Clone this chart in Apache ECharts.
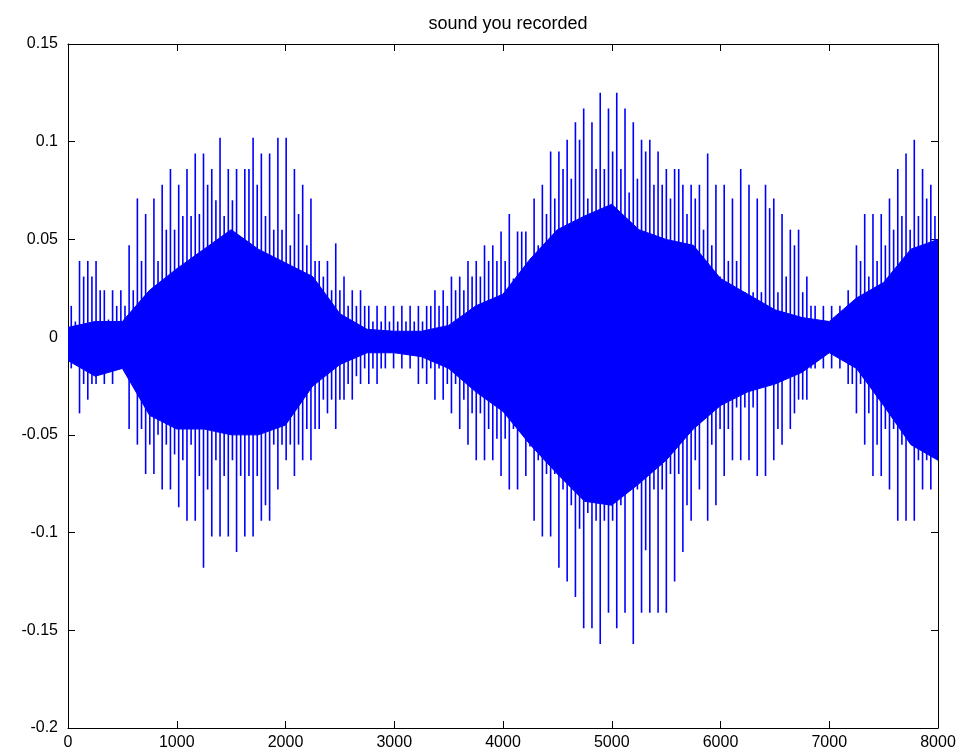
<!DOCTYPE html>
<html>
<head>
<meta charset="utf-8">
<script src="https://cdn.jsdelivr.net/npm/echarts@6/dist/echarts.min.js"></script>
<style>
html,body{margin:0;padding:0;background:#fff;}
#chart{width:966px;height:754px;}
</style>
</head>
<body>
<div id="chart"></div>
<script>
// ---- data ----
const chartTitle = 'sound you recorded';
const xTicks = [0, 1000, 2000, 3000, 4000, 5000, 6000, 7000, 8000];
const yTicks = [-0.2, -0.15, -0.1, -0.05, 0, 0.05, 0.1, 0.15];

// pitch periods: first period at sample 30, one period every 76 samples
const periodStart = 30;
const periodLength = 76;

// tallest positive spike of each pitch period
const peakHigh = [0.016, 0.039, 0.039, 0.039, 0.024, 0.024, 0.024, 0.047, 0.071, 0.063,
  0.071, 0.078, 0.086, 0.078, 0.086, 0.094, 0.094, 0.086, 0.102, 0.086,
  0.086, 0.086, 0.102, 0.094, 0.094, 0.102, 0.102, 0.086, 0.078, 0.071,
  0.039, 0.039, 0.048, 0.031, 0.024, 0.024, 0.016, 0.016, 0.016, 0.016,
  0.016, 0.016, 0.016, 0.016, 0.024, 0.024, 0.031, 0.031, 0.039, 0.039,
  0.047, 0.047, 0.054, 0.063, 0.054, 0.054, 0.071, 0.078, 0.095, 0.095,
  0.101, 0.110, 0.117, 0.110, 0.125, 0.117, 0.125, 0.117, 0.110, 0.101,
  0.101, 0.095, 0.086, 0.086, 0.078, 0.078, 0.078, 0.094, 0.078, 0.078,
  0.071, 0.086, 0.078, 0.071, 0.078, 0.071, 0.063, 0.055, 0.055, 0.031,
  0.016, 0.016, 0.016, 0.016, 0.024, 0.047, 0.063, 0.063, 0.063, 0.071,
  0.086, 0.094, 0.101, 0.086, 0.078];
// deepest negative spike of each pitch period
const peakLow = [-0.016, -0.039, -0.032, -0.024, -0.024, -0.024, -0.016, -0.047, -0.055, -0.070,
  -0.070, -0.078, -0.078, -0.087, -0.094, -0.094, -0.118, -0.102, -0.102, -0.102,
  -0.110, -0.102, -0.102, -0.094, -0.094, -0.078, -0.063, -0.071, -0.063, -0.063,
  -0.047, -0.039, -0.047, -0.032, -0.032, -0.024, -0.024, -0.024, -0.016, -0.016,
  -0.016, -0.016, -0.024, -0.024, -0.032, -0.032, -0.039, -0.047, -0.055, -0.063,
  -0.063, -0.063, -0.071, -0.078, -0.078, -0.071, -0.094, -0.102, -0.102, -0.118,
  -0.125, -0.133, -0.149, -0.149, -0.157, -0.141, -0.149, -0.141, -0.157, -0.141,
  -0.141, -0.141, -0.141, -0.125, -0.110, -0.094, -0.078, -0.094, -0.086, -0.071,
  -0.063, -0.063, -0.063, -0.071, -0.071, -0.063, -0.055, -0.047, -0.032, -0.032,
  -0.016, -0.016, -0.016, -0.016, -0.024, -0.039, -0.055, -0.071, -0.071, -0.078,
  -0.094, -0.094, -0.094, -0.078, -0.078];
// second (smaller) positive spike of each period
const secondHigh = [0.008, 0.031, 0.031, 0.024, 0.009, 0.016, 0.016, 0.024, 0.039, 0.024,
  0.039, 0.055, 0.055, 0.062, 0.062, 0.063, 0.078, 0.070, 0.062, 0.070,
  0.050, 0.086, 0.078, 0.062, 0.055, 0.055, 0.047, 0.063, 0.047, 0.039,
  0.031, 0.024, 0.024, 0.016, 0.016, 0.016, 0.008, 0.008, 0.008, 0.008,
  0.008, 0.008, 0.008, 0.016, 0.016, 0.016, 0.024, 0.024, 0.031, 0.031,
  0.039, 0.039, 0.039, 0.030, 0.054, 0.039, 0.047, 0.063, 0.071, 0.086,
  0.081, 0.101, 0.071, 0.086, 0.086, 0.095, 0.086, 0.074, 0.081, 0.095,
  0.078, 0.078, 0.071, 0.086, 0.063, 0.071, 0.055, 0.047, 0.031, 0.039,
  0.039, 0.023, 0.023, 0.023, 0.066, 0.023, 0.031, 0.047, 0.023, 0.016,
  0.008, 0.008, 0.008, 0.008, 0.008, 0.039, 0.031, 0.039, 0.047, 0.055,
  0.062, 0.055, 0.062, 0.071, 0.062];
// second (smaller) negative spike of each period
const secondLow = [-0.008, -0.024, -0.024, -0.016, -0.016, -0.008, -0.008, -0.024, -0.047, -0.055,
  -0.050, -0.055, -0.060, -0.063, -0.055, -0.071, -0.078, -0.063, -0.071, -0.063,
  -0.071, -0.071, -0.071, -0.086, -0.055, -0.055, -0.055, -0.055, -0.047, -0.047,
  -0.032, -0.032, -0.032, -0.024, -0.020, -0.016, -0.016, -0.016, -0.008, -0.008,
  -0.008, -0.008, -0.016, -0.016, -0.016, -0.024, -0.024, -0.032, -0.039, -0.039,
  -0.047, -0.052, -0.052, -0.047, -0.047, -0.056, -0.063, -0.070, -0.070, -0.078,
  -0.086, -0.098, -0.090, -0.094, -0.094, -0.094, -0.086, -0.078, -0.078, -0.109,
  -0.078, -0.078, -0.070, -0.070, -0.086, -0.063, -0.032, -0.055, -0.047, -0.047,
  -0.036, -0.036, -0.036, -0.024, -0.024, -0.047, -0.016, -0.039, -0.032, -0.016,
  -0.010, -0.008, -0.008, -0.008, -0.024, -0.024, -0.039, -0.055, -0.047, -0.047,
  -0.055, -0.036, -0.063, -0.063, -0.055];

// dense core of the waveform, upper and lower edge, every 250 samples (0..8000)
const coreStep = 250;
const coreTop = [0.005, 0.008, 0.008, 0.024, 0.035, 0.045, 0.055, 0.045, 0.038, 0.031,
  0.012, 0.004, 0.003, 0.003, 0.006, 0.016, 0.022, 0.040, 0.055, 0.062,
  0.068, 0.055, 0.050, 0.047, 0.030, 0.022, 0.014, 0.010, 0.008, 0.020,
  0.028, 0.045, 0.050];
const coreBottom = [-0.012, -0.020, -0.016, -0.040, -0.047, -0.047, -0.050, -0.050, -0.045, -0.025,
  -0.014, -0.008, -0.008, -0.010, -0.016, -0.028, -0.038, -0.055, -0.070, -0.084,
  -0.086, -0.075, -0.063, -0.047, -0.035, -0.028, -0.024, -0.018, -0.008, -0.016,
  -0.035, -0.055, -0.063];

// ---- build series data ----
const spikeData = [];
peakHigh.forEach((v, i) => {
  const s = periodStart + periodLength * i;
  spikeData.push([s, v, peakLow[i]]);
  spikeData.push([s + periodLength / 2, secondHigh[i], secondLow[i]]);
});
// one row per core sample: [sample, top, bottom]
const coreData = coreTop.map((v, k) => [k * coreStep, v, coreBottom[k]]);

const BLUE = '#0000ff';
const FONT = 'Liberation Sans, Arial, Helvetica, sans-serif';

const chart = echarts.init(document.getElementById('chart'), null, {renderer: 'canvas'});

function axisCommon() {
  return {
    axisLine: {show: true, onZero: false, lineStyle: {color: '#000', width: 1}},
    axisTick: {show: true, inside: true, length: 7, lineStyle: {color: '#000', width: 1}},
    splitLine: {show: false}
  };
}
const plainNumber = v => String(Math.round(v * 1000) / 1000);

chart.setOption({
  animation: false,
  backgroundColor: '#fff',
  title: {
    text: chartTitle,
    left: 503,
    top: 10,
    textAlign: 'center',
    textStyle: {fontFamily: FONT, fontSize: 18, fontWeight: 'normal', color: '#000'}
  },
  grid: {left: 68, right: 28, top: 44, bottom: 26, show: false},
  xAxis: [
    Object.assign({
      type: 'value', min: xTicks[0], max: xTicks[xTicks.length - 1], interval: 1000,
      position: 'bottom',
      axisLabel: {show: true, color: '#000', fontFamily: FONT, fontSize: 16, margin: 7,
        showMinLabel: true, showMaxLabel: true, formatter: plainNumber}
    }, axisCommon()),
    Object.assign({
      type: 'value', min: xTicks[0], max: xTicks[xTicks.length - 1], interval: 1000,
      position: 'top', axisLabel: {show: false}
    }, axisCommon())
  ],
  yAxis: [
    Object.assign({
      type: 'value', min: yTicks[0], max: yTicks[yTicks.length - 1], interval: 0.05,
      position: 'left',
      axisLabel: {show: true, color: '#000', fontFamily: FONT, fontSize: 16, margin: 10,
        showMinLabel: true, showMaxLabel: true, formatter: plainNumber}
    }, axisCommon()),
    Object.assign({
      type: 'value', min: yTicks[0], max: yTicks[yTicks.length - 1], interval: 0.05,
      position: 'right', axisLabel: {show: false}
    }, axisCommon())
  ],
  series: [
    {
      // dense core drawn as one filled band between the upper and lower edges
      type: 'custom', xAxisIndex: 0, yAxisIndex: 0,
      data: coreData,
      encode: {x: 0, y: [1, 2]},
      clip: true, silent: true, z: 2,
      renderItem: function (params, api) {
        if (params.dataIndex !== 0) return null;
        const upper = coreData.map(r => api.coord([r[0], r[1]]));
        const lower = coreData.map(r => api.coord([r[0], r[2]])).reverse();
        return {
          type: 'polygon',
          shape: {points: upper.concat(lower)},
          style: {fill: BLUE, stroke: BLUE, lineWidth: 1}
        };
      }
    },
    {
      type: 'custom', xAxisIndex: 0, yAxisIndex: 0,
      data: spikeData,
      encode: {x: 0, y: [1, 2]},
      clip: true, silent: true,
      z: 3,
      renderItem: function (params, api) {
        const x = api.value(0);
        const p1 = api.coord([x, api.value(1)]);
        const p2 = api.coord([x, api.value(2)]);
        return {
          type: 'line',
          shape: {x1: p1[0], y1: p1[1], x2: p2[0], y2: p2[1]},
          style: {stroke: BLUE, lineWidth: 1.6}
        };
      }
    }
  ]
});
</script>
</body>
</html>
